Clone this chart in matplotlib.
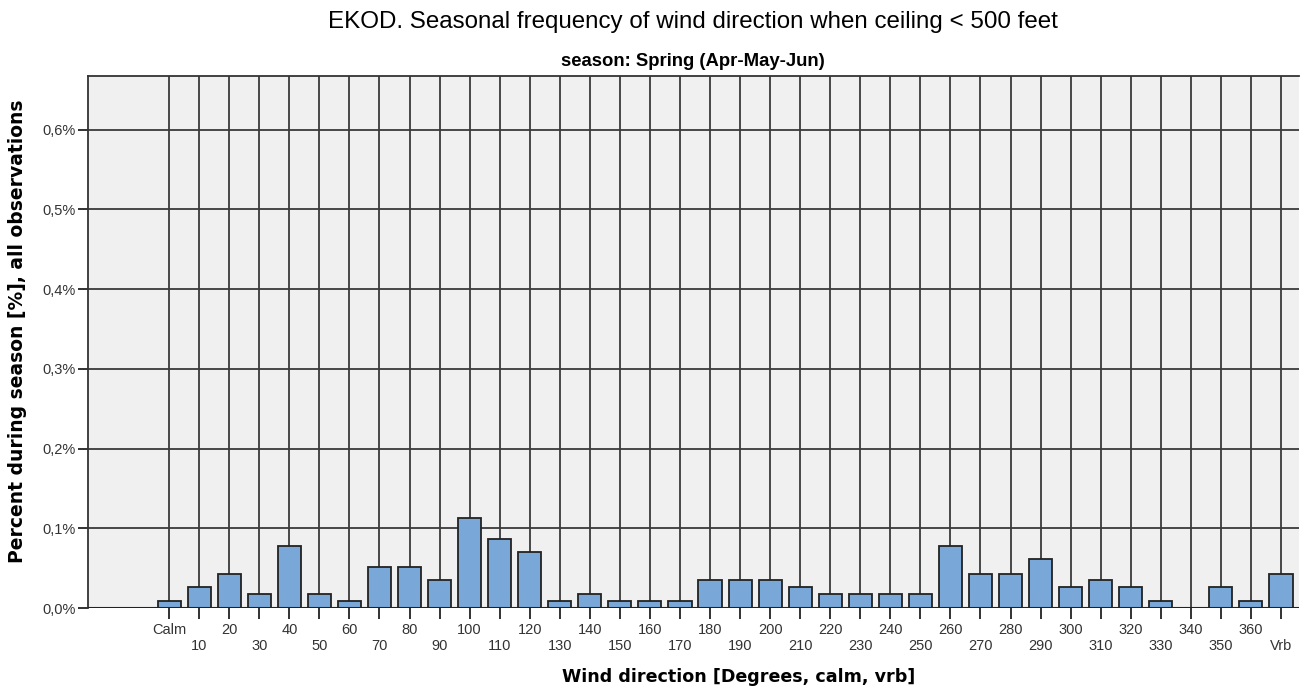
import numpy as np
import matplotlib.pyplot as plt

# Data (percent of all observations)
categories = ["Calm"] + [str(d) for d in range(10, 370, 10)] + ["Vrb"]
values = [0.009, 0.026, 0.043, 0.017, 0.078, 0.017, 0.009, 0.052, 0.052, 0.035,
          0.113, 0.087, 0.070, 0.009, 0.017, 0.009, 0.009, 0.009, 0.035, 0.035,
          0.035, 0.026, 0.017, 0.017, 0.017, 0.017, 0.078, 0.043, 0.043, 0.061,
          0.026, 0.035, 0.026, 0.009, 0.000, 0.026, 0.009, 0.043]
yticks = [0.0, 0.1, 0.2, 0.3, 0.4, 0.5, 0.6]
ytick_labels = ["0,0%", "0,1%", "0,2%", "0,3%", "0,4%", "0,5%", "0,6%"]

plt.rcParams['font.family'] = ['Liberation Sans', 'DejaVu Sans']

W, H = 1316, 692
fig = plt.figure(figsize=(W / 100, H / 100), dpi=100)
ax = fig.add_axes([88 / W, 1 - 608 / H, (1299 - 88) / W, (608 - 76) / H])
ax.set_facecolor('#f0f0f0')

x = np.arange(len(categories))

# vertical grid lines at each category, behind the bars
for xi in x:
    ax.axvline(xi, color='#3a3a3a', lw=1.3, zorder=1)
for yv in yticks[1:]:
    ax.axhline(yv, color='#3a3a3a', lw=1.3, zorder=1)

ax.bar(x, values, width=0.77, color='#79a8d8', edgecolor='#222222', linewidth=1.3, zorder=3)
ax.axhline(0, color='#222222', lw=1.5, zorder=4)

ax.set_xlim(-2.7, len(categories) - 1 + 0.6)
ax.set_ylim(0, 0.6675)

ax.set_yticks(yticks)
ax.set_yticklabels(ytick_labels, fontsize=10.5, color='#333333')
ax.tick_params(axis='y', length=7, width=1.3, color='#222222', pad=2)

ax.set_xticks(x)
labels = [c if i % 2 == 0 else "\n" + c for i, c in enumerate(categories)]
ax.set_xticklabels(labels, fontsize=10.5, color='#333333', linespacing=1.2)
ax.tick_params(axis='x', length=8, width=1.3, color='#222222', pad=3)

for side in ['left', 'top']:
    ax.spines[side].set_color('#333333')
    ax.spines[side].set_linewidth(1.3)
ax.spines['right'].set_visible(False)
ax.spines['bottom'].set_visible(False)

# axis titles and headings placed in figure pixels
fig.text(18 / W, 1 - 331 / H, "Percent during season [%], all observations", rotation=90,
         ha='center', va='center', fontsize=13.5, fontweight='bold', family='DejaVu Sans')
fig.text(739 / W, 1 - 677 / H, "Wind direction [Degrees, calm, vrb]",
         ha='center', va='center', fontsize=12.6, fontweight='bold', family='DejaVu Sans')
fig.text(693 / W, 1 - 22 / H, "EKOD. Seasonal frequency of wind direction when ceiling < 500 feet",
         ha='center', va='center', fontsize=17.4)
fig.text(693 / W, 1 - 61 / H, "season: Spring (Apr-May-Jun)", ha='center', va='center',
         fontsize=13.3, fontweight='bold')

fig.savefig("out.png", dpi=100)
